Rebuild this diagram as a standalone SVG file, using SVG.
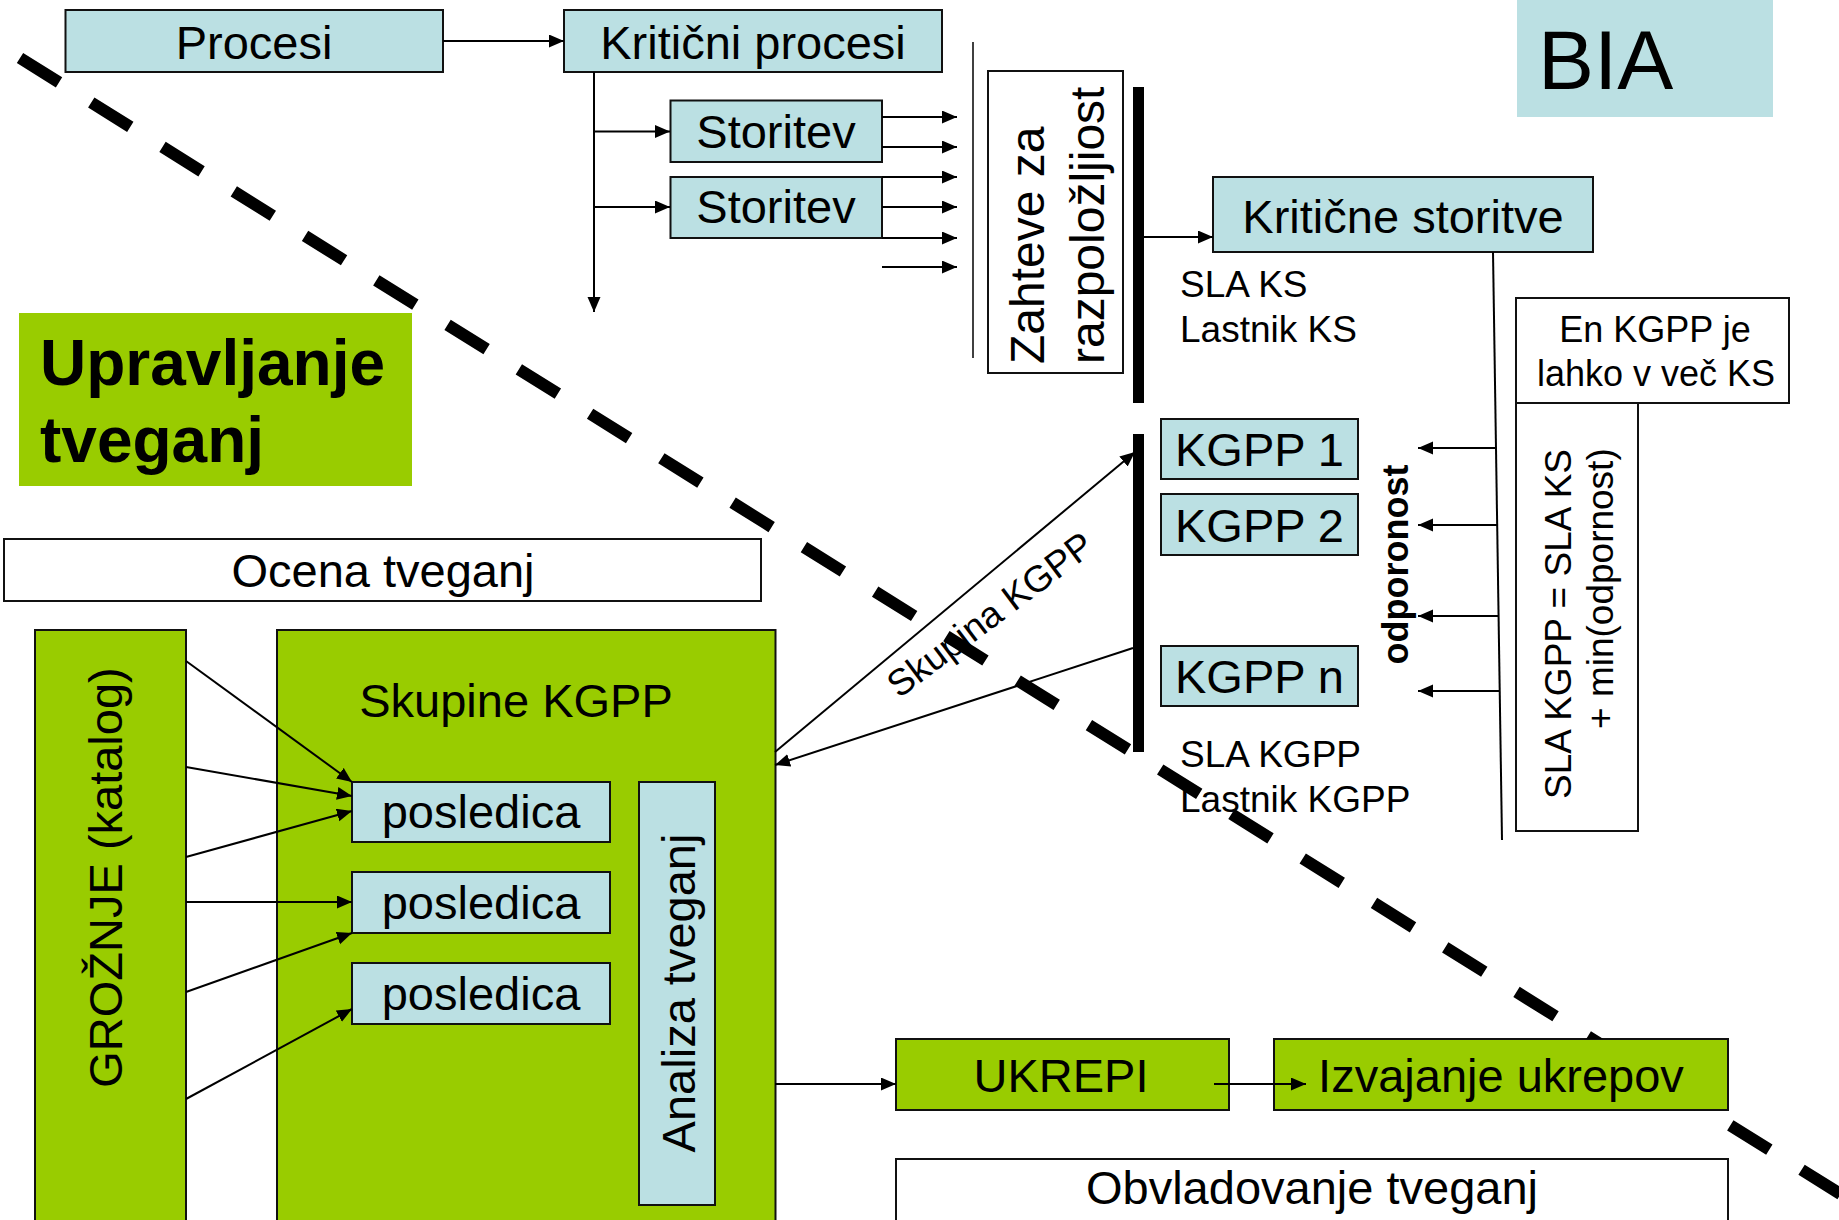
<svg xmlns="http://www.w3.org/2000/svg" width="1839" height="1220" viewBox="0 0 1839 1220">
<style>
text{font-family:"Liberation Sans",Arial,sans-serif;fill:#000}
.blue{fill:#BBE0E3;stroke:#111;stroke-width:2}
.green{fill:#99CC00;stroke:#111;stroke-width:2}
.white{fill:#fff;stroke:#111;stroke-width:2}
.f47{font-size:47px}
.f37{font-size:37px}
.f36{font-size:36px}
.c{text-anchor:middle}
.ln{stroke:#000;stroke-width:2;fill:none}
.arr{stroke:#000;stroke-width:2;fill:none;marker-end:url(#ah)}
.bar{fill:#000}
</style>
<defs>
<marker id="ah" markerUnits="userSpaceOnUse" markerWidth="16" markerHeight="14" refX="15" refY="6.5" orient="auto">
<path d="M0,0 L15,6.5 L0,13 z" fill="#000"/>
</marker>
<mask id="divmask" maskUnits="userSpaceOnUse" x="0" y="0" width="1839" height="1220">
<rect x="0" y="0" width="1839" height="1220" fill="#fff"/>
<rect x="1274" y="1039" width="454" height="71" fill="#000"/>
</mask>
</defs>
<rect width="1839" height="1220" fill="#fff"/>

<g id="nodes">
<g id="procesi"><rect class="blue" x="65.5" y="10" width="377.5" height="62"/><text class="f47 c" x="254" y="59">Procesi</text></g>
<g id="kriticni-procesi"><rect class="blue" x="564" y="10" width="378" height="62"/><text class="f47 c" x="753" y="59">Kritični procesi</text></g>
<g id="storitev1"><rect class="blue" x="670.5" y="100.5" width="211.5" height="61.5"/><text class="f47 c" x="776" y="148">Storitev</text></g>
<g id="storitev2"><rect class="blue" x="670.5" y="177" width="211.5" height="61"/><text class="f47 c" x="776" y="223">Storitev</text></g>
<g id="zahteve"><rect class="white" x="988" y="71" width="135" height="302"/>
<text style="font-size:48px" transform="translate(1044,364) rotate(-90)">Zahteve za</text>
<text style="font-size:48px" transform="translate(1104,364) rotate(-90)">razpoložljiost</text></g>
<g id="bia"><rect x="1517" y="0" width="256" height="117" fill="#BBE0E3"/><text x="1538" y="89" style="font-size:84px">BIA</text></g>
<g id="kriticne-storitve"><rect class="blue" x="1213" y="177" width="380" height="75"/><text class="f47 c" x="1403" y="233">Kritične storitve</text></g>
<g id="sla-ks"><text class="f37" x="1180" y="297">SLA KS</text><text class="f37" x="1180" y="342">Lastnik KS</text></g>
<g id="en-kgpp"><rect class="white" x="1516" y="298" width="273" height="105"/>
<text class="f36 c" x="1655" y="342">En KGPP je</text><text class="f36 c" x="1656" y="386">lahko v več KS</text></g>
<g id="sla-kgpp-formula"><rect class="white" x="1516" y="403" width="122" height="428"/>
<text class="f37" transform="translate(1571,799) rotate(-90)">SLA KGPP = SLA KS</text>
<text class="f37" transform="translate(1613,729) rotate(-90)">+ min(odpornost)</text></g>
<g id="odpornost"><text class="f36 c" style="font-weight:bold" transform="translate(1408,564.5) rotate(-90)">odporonost</text></g>
<g id="kgpp1"><rect class="blue" x="1161" y="419" width="197" height="60"/><text class="f47 c" x="1259.5" y="466">KGPP 1</text></g>
<g id="kgpp2"><rect class="blue" x="1161" y="494" width="197" height="61"/><text class="f47 c" x="1259.5" y="542">KGPP 2</text></g>
<g id="kgppn"><rect class="blue" x="1161" y="646" width="197" height="60"/><text class="f47 c" x="1259.5" y="693">KGPP n</text></g>
<g id="sla-kgpp"><text class="f37" x="1180" y="767">SLA KGPP</text><text class="f37" x="1180" y="812">Lastnik KGPP</text></g>
<g id="upravljanje"><rect x="19" y="313" width="393" height="173" fill="#99CC00"/>
<text x="40" y="385" style="font-size:64px;font-weight:bold">Upravljanje</text>
<text x="40" y="462" style="font-size:64px;font-weight:bold">tveganj</text></g>
<g id="ocena"><rect class="white" x="4" y="539" width="757" height="62"/><text class="f47 c" x="383" y="587">Ocena tveganj</text></g>
<g id="groznje"><rect class="green" x="35" y="630" width="151" height="600"/>
<text class="f47 c" transform="translate(122,877.5) rotate(-90)">GROŽNJE (katalog)</text></g>
<g id="skupine"><rect class="green" x="277" y="630" width="498.5" height="600"/><text class="f47 c" x="516" y="717">Skupine KGPP</text></g>
<g id="posledica1"><rect class="blue" x="352" y="782" width="258" height="60"/><text class="f47 c" x="481" y="828">posledica</text></g>
<g id="posledica2"><rect class="blue" x="352" y="872" width="258" height="61"/><text class="f47 c" x="481" y="919">posledica</text></g>
<g id="posledica3"><rect class="blue" x="352" y="963" width="258" height="61"/><text class="f47 c" x="481" y="1010">posledica</text></g>
<g id="analiza"><rect class="blue" x="639" y="782" width="76" height="423"/>
<text class="f47 c" transform="translate(695,993) rotate(-90)">Analiza tveganj</text></g>
<g id="ukrepi"><rect class="green" x="896" y="1039" width="333" height="71"/><text class="f47 c" x="1061" y="1092">UKREPI</text></g>
<g id="obvladovanje"><rect class="white" x="896" y="1159" width="832" height="70"/><text class="f47 c" x="1312" y="1204">Obvladovanje tveganj</text></g>
<g id="izvajanje"><rect class="green" x="1274" y="1039" width="454" height="71"/><text class="f47 c" x="1501" y="1092">Izvajanje ukrepov</text></g>
</g>

<g id="connectors">
<line class="arr" x1="443" y1="41" x2="564" y2="41"/>
<line class="arr" x1="594" y1="72" x2="594" y2="312"/>
<line class="arr" x1="594" y1="131.5" x2="670" y2="131.5"/>
<line class="arr" x1="594" y1="207" x2="670" y2="207"/>
<line class="arr" x1="882" y1="117" x2="957" y2="117"/>
<line class="arr" x1="882" y1="147" x2="957" y2="147"/>
<line class="arr" x1="882" y1="177" x2="957" y2="177"/>
<line class="arr" x1="882" y1="207" x2="957" y2="207"/>
<line class="arr" x1="882" y1="238" x2="957" y2="238"/>
<line class="arr" x1="882" y1="267" x2="957" y2="267"/>
<line class="ln" style="stroke-width:1.5" x1="973" y1="42" x2="973" y2="358"/>
<rect class="bar" x="1133" y="87" width="11" height="316"/>
<line class="arr" x1="1144" y1="237" x2="1213" y2="237"/>
<line class="ln" x1="1493" y1="252" x2="1502" y2="840"/>
<line class="arr" x1="1496" y1="448" x2="1418" y2="448"/>
<line class="arr" x1="1497" y1="525" x2="1418" y2="525"/>
<line class="arr" x1="1498" y1="616" x2="1418" y2="616"/>
<line class="arr" x1="1499" y1="691" x2="1418" y2="691"/>
<rect class="bar" x="1133" y="434" width="11" height="318"/>
<line class="arr" x1="775" y1="752" x2="1135" y2="452"/>
<line class="arr" x1="1133" y1="648" x2="775" y2="765"/>
<text class="f37" transform="translate(899,699) rotate(-37)">Skupina KGPP</text>
<line class="arr" x1="186" y1="661" x2="352" y2="782"/>
<line class="arr" x1="186" y1="767" x2="352" y2="796"/>
<line class="arr" x1="186" y1="857" x2="352" y2="811"/>
<line class="arr" x1="186" y1="902" x2="352" y2="902"/>
<line class="arr" x1="186" y1="992" x2="352" y2="933"/>
<line class="arr" x1="186" y1="1099" x2="352" y2="1009"/>
<line class="arr" x1="775" y1="1084" x2="896" y2="1084"/>
<line class="arr" x1="1214" y1="1084" x2="1306" y2="1084"/>
</g>

<g id="divider" mask="url(#divmask)">
<line x1="20" y1="58" x2="1850" y2="1200" stroke="#000" stroke-width="12" stroke-dasharray="46 38"/>
</g>
</svg>
